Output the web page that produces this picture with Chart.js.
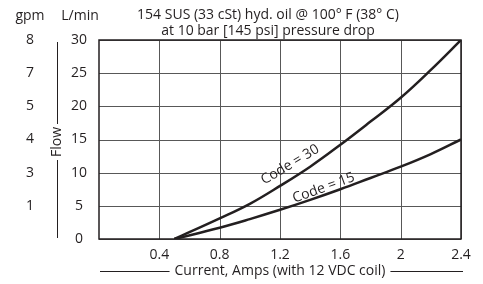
<!DOCTYPE html>
<html>
<head>
<meta charset="utf-8">
<script src="https://cdn.jsdelivr.net/npm/chart.js@4"></script>
<style>
  html, body { margin: 0; padding: 0; background: #fff; }
</style>
</head>
<body>
<canvas id="c" width="483" height="284"></canvas>
<script>
// ---- data ----
const currents = [0.5, 0.8, 1.0, 1.2, 1.4, 1.6, 1.8, 2.0, 2.2, 2.4];
const code30 = [0, 3.1, 5.3, 8.0, 10.9, 14.2, 17.7, 21.3, 25.5, 30];
const code15 = [0, 1.7, 3.0, 4.4, 5.9, 7.5, 9.2, 10.9, 12.8, 15];
const xTicks = [0.4, 0.8, 1.2, 1.6, 2.0, 2.4];
const xTickLabels = ['0.4', '0.8', '1.2', '1.6', '2', '2.4'];
const lminTicks = [0, 5, 10, 15, 20, 25, 30];
const lminLabels = ['0', '5', '10', '15', '20', '25', '30'];
const gpmLabels = ['', '1', '3', '4', '5', '7', '8'];
const titleLines = ['154 SUS (33 cSt) hyd. oil @ 100\u00B0 F (38\u00B0 C)', 'at 10 bar [145 psi] pressure drop'];
const xTitle = 'Current, Amps (with 12 VDC coil)';
const yTitle = 'Flow';
const curveLabels = ['Code = 30', 'Code = 15'];

const INK = '#231f20';
const GRID = '#585858';
const FONT = '14px "Open Sans", "Noto Sans", sans-serif';

const toPts = (ys) => currents.map((c, i) => ({ x: c, y: ys[i] }));

const overlay = {
  id: 'overlay',
  beforeDatasetsDraw(chart) {
    const ctx = chart.ctx;
    const xs = chart.scales.x, ys = chart.scales.y;
    const area = chart.chartArea;
    ctx.save();
    ctx.lineWidth = 1;
    ctx.strokeStyle = GRID;
    ctx.beginPath();
    xTicks.forEach(v => {
      const px = Math.round(xs.getPixelForValue(v)) + 0.5;
      ctx.moveTo(px, area.top); ctx.lineTo(px, area.bottom);
    });
    lminTicks.forEach(v => {
      const py = Math.round(ys.getPixelForValue(v)) + 0.5;
      ctx.moveTo(area.left, py); ctx.lineTo(area.right, py);
    });
    ctx.stroke();
    ctx.restore();
  },
  afterDraw(chart) {
    const ctx = chart.ctx;
    const xs = chart.scales.x, ys = chart.scales.y;
    const area = chart.chartArea;
    ctx.save();
    ctx.fillStyle = INK;
    ctx.strokeStyle = INK;
    ctx.font = FONT;
    ctx.textAlign = 'center';
    ctx.textBaseline = 'middle';
    ctx.fillText(titleLines[0], 268, 15);
    ctx.fillText(titleLines[1], 268, 31);
    ctx.fillText('gpm', 30, 16);
    ctx.fillText('L/min', 80, 16);
    lminTicks.forEach((v, i) => {
      const py = ys.getPixelForValue(v);
      ctx.fillText(lminLabels[i], 79, py);
      if (gpmLabels[i]) ctx.fillText(gpmLabels[i], 30, py);
    });
    ctx.save();
    ctx.translate(57, 142);
    ctx.rotate(-Math.PI / 2);
    ctx.fillText(yTitle, 0, 0);
    ctx.restore();
    ctx.lineWidth = 1;
    ctx.beginPath();
    ctx.moveTo(57.5, 42); ctx.lineTo(57.5, 124);
    ctx.moveTo(57.5, 160); ctx.lineTo(57.5, 238);
    ctx.stroke();
    xTicks.forEach((v, i) => {
      ctx.fillText(xTickLabels[i], xs.getPixelForValue(v), 255);
    });
    const cx = (area.left + area.right) / 2;
    ctx.fillText(xTitle, cx, 271);
    const w = ctx.measureText(xTitle).width;
    ctx.beginPath();
    ctx.moveTo(area.left + 1, 271.5); ctx.lineTo(cx - w / 2 - 5, 271.5);
    ctx.moveTo(cx + w / 2 + 5, 271.5); ctx.lineTo(area.right + 2, 271.5);
    ctx.stroke();
    const lab = (txt, xv, yv, deg) => {
      ctx.save();
      ctx.translate(xs.getPixelForValue(xv), ys.getPixelForValue(yv));
      ctx.rotate(-deg * Math.PI / 180);
      ctx.fillText(txt, 0, 0);
      ctx.restore();
    };
    lab(curveLabels[0], 1.267, 11.2, 31);
    lab(curveLabels[1], 1.49, 7.7, 20);
    ctx.lineWidth = 1.5;
    ctx.strokeRect(area.left, area.top, area.right - area.left, area.bottom - area.top);
    ctx.restore();
  }
};

new Chart(document.getElementById('c'), {
  type: 'line',
  data: {
    datasets: [
      { label: curveLabels[0], data: toPts(code30), borderColor: INK, borderWidth: 2.5, pointRadius: 0, fill: false, tension: 0.4 },
      { label: curveLabels[1], data: toPts(code15), borderColor: INK, borderWidth: 2.5, pointRadius: 0, fill: false, tension: 0.4 }
    ]
  },
  options: {
    responsive: false,
    animation: false,
    layout: { padding: { left: 99, right: 22, top: 40, bottom: 45 } },
    plugins: { legend: { display: false }, tooltip: { enabled: false } },
    scales: {
      x: {
        type: 'linear', min: 0, max: 2.4,
        ticks: { display: false, stepSize: 0.4 },
        grid: { display: false, drawTicks: false },
        border: { display: false }
      },
      y: {
        type: 'linear', min: 0, max: 30,
        ticks: { display: false, stepSize: 5 },
        grid: { display: false, drawTicks: false },
        border: { display: false }
      }
    }
  },
  plugins: [overlay]
});
</script>
</body>
</html>
